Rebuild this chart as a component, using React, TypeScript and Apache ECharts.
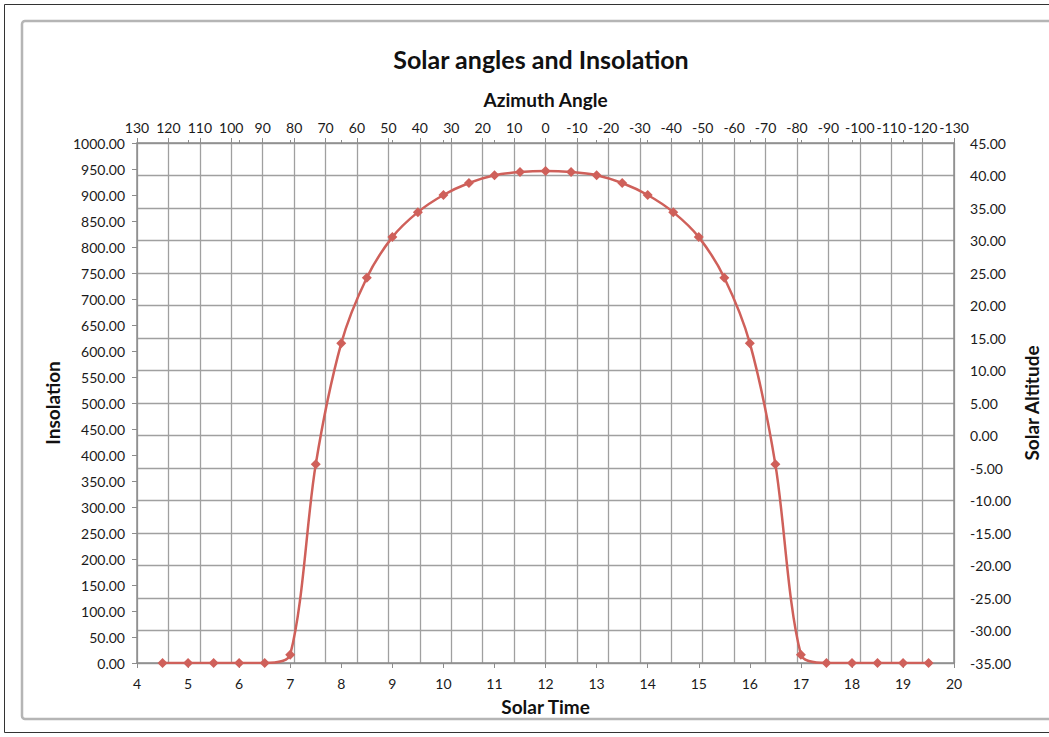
import React, { useEffect, useRef } from "react";
import * as echarts from "echarts";

const solarTime = [4.5, 5, 5.5, 6, 6.5, 7, 7.5, 8, 8.5, 9, 9.5, 10, 10.5, 11, 11.5, 12, 12.5, 13, 13.5, 14, 14.5, 15, 15.5, 16, 16.5, 17, 17.5, 18, 18.5, 19, 19.5];
const insolation = [0, 0, 0, 0, 0, 16, 382, 615, 741, 819, 867, 900, 923, 938, 944, 946, 944, 938, 923, 900, 867, 819, 741, 615, 382, 16, 0, 0, 0, 0, 0];

const titleText = "Solar angles and Insolation";
const topAxisName = "Azimuth Angle";
const bottomAxisName = "Solar Time";
const leftAxisName = "Insolation";
const rightAxisName = "Solar Altitude";

const FONT = "Lato, 'Open Sans', sans-serif";
const LINE_COLOR = "#CF605A";
const AXIS_COLOR = "#8c8c8c";
const GRID_COLOR = "#a0a0a0";
const TEXT_COLOR = "#1a1a1a";

export default function App() {
  const ref = useRef<HTMLDivElement>(null);
  useEffect(() => {
    document.body.style.margin = "0";
    if (!ref.current) return;
    const chart = echarts.init(ref.current, undefined, { renderer: "svg" });
    const labelStyle = { fontFamily: FONT, fontSize: 14, color: TEXT_COLOR };
    const nameStyle = { fontFamily: FONT, fontSize: 19, fontWeight: "bold" as const, color: "#111" };
    const axisLine = { show: true, onZero: false, lineStyle: { color: AXIS_COLOR, width: 1.5 } };
    chart.setOption({
      animation: false,
      backgroundColor: "#ffffff",
      title: {
        text: titleText,
        left: 536,
        top: 41,
        textAlign: "center",
        textStyle: { fontFamily: FONT, fontSize: 25, fontWeight: "bold", color: "#111" },
      },
      graphic: [
        {
          type: "rect",
          shape: { x: 4.5, y: 4.5, width: 1100, height: 728 },
          style: { fill: "none", stroke: "#333", lineWidth: 1 },
          silent: true,
        },
        {
          type: "rect",
          shape: { x: 22, y: 21, width: 1060, height: 698, r: 3 },
          style: { fill: "none", stroke: "#b5b5b5", lineWidth: 2.5 },
          silent: true,
        },
      ],
      grid: { left: 137, top: 143, width: 820, height: 520, containLabel: false },
      xAxis: [
        {
          type: "value",
          position: "bottom",
          min: 4,
          max: 20,
          interval: 1,
          name: bottomAxisName,
          nameLocation: "middle",
          nameGap: 34,
          nameTextStyle: nameStyle,
          axisLine,
          axisTick: { show: true, length: 5, lineStyle: { color: AXIS_COLOR } },
          axisLabel: { ...labelStyle, margin: 13 },
          splitLine: { show: false },
        },
        {
          type: "value",
          position: "top",
          min: -130,
          max: 130,
          interval: 10,
          inverse: true,
          name: topAxisName,
          nameLocation: "middle",
          nameGap: 34,
          nameTextStyle: nameStyle,
          axisLine,
          axisTick: { show: true, length: 5, lineStyle: { color: AXIS_COLOR } },
          axisLabel: { ...labelStyle, margin: 9, formatter: (v: number) => String(v) },
          splitLine: { show: true, lineStyle: { color: GRID_COLOR, width: 1.3 } },
        },
        {
          type: "value",
          position: "top",
          min: 4,
          max: 20,
          interval: 1,
          axisLine: { show: false, onZero: false },
          axisTick: { show: true, length: 3, lineStyle: { color: AXIS_COLOR } },
          axisLabel: { show: false },
          splitLine: { show: false },
        },
      ],
      yAxis: [
        {
          type: "value",
          position: "left",
          min: 0,
          max: 1000,
          interval: 50,
          name: leftAxisName,
          nameLocation: "middle",
          nameGap: 72,
          nameTextStyle: nameStyle,
          axisLine,
          axisTick: { show: true, length: 5, lineStyle: { color: AXIS_COLOR } },
          axisLabel: { ...labelStyle, margin: 12, formatter: (v: number) => v.toFixed(2) },
          splitLine: { show: false },
        },
        {
          type: "value",
          position: "right",
          min: -35,
          max: 45,
          interval: 5,
          name: rightAxisName,
          nameLocation: "middle",
          nameGap: 60,
          nameTextStyle: nameStyle,
          axisLine,
          axisTick: { show: false },
          axisLabel: { ...labelStyle, margin: 16, formatter: (v: number) => v.toFixed(2) },
          splitLine: { show: true, lineStyle: { color: GRID_COLOR, width: 1.3 } },
        },
      ],
      series: [
        {
          name: leftAxisName,
          type: "line",
          xAxisIndex: 0,
          yAxisIndex: 0,
          data: solarTime.map((t, i) => [t, insolation[i]]),
          smooth: 0.3,
          symbol: "diamond",
          symbolSize: 10,
          itemStyle: { color: LINE_COLOR },
          lineStyle: { color: LINE_COLOR, width: 2.5 },
          z: 5,
        },
      ],
    });
    return () => chart.dispose();
  }, []);
  return <div ref={ref} style={{ width: 1049, height: 737 }} />;
}
